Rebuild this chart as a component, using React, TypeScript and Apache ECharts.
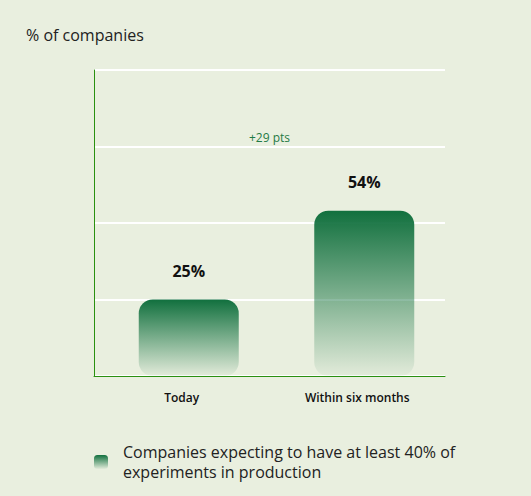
import React, { useEffect, useRef } from "react";
import * as echarts from "echarts";

const categories = ["Today", "Within six months"];
const values = [25, 54];
const seriesName = "Companies expecting to have at least 40% of experiments in production";
const legendText = "Companies expecting to have at least 40% of\nexperiments in production";
const yTicks = [0, 25, 50, 75, 100];
const deltaText = "+29 pts";
const deltaLevel = 78; // y value where the "+29 pts" note sits

const App = () => {
    const chartRef = useRef<HTMLDivElement>(null);

    useEffect(() => {
        const chart = echarts.init(chartRef.current, null, { renderer: "svg" });

        const barColor = new echarts.graphic.LinearGradient(0, 0, 0, 1, [
            { offset: 0, color: "#11703e" },
            { offset: 1, color: "rgba(17,112,62,0.03)" },
        ]);

        const option = {
            animation: false,
            backgroundColor: "#e9efdf",
            textStyle: { fontFamily: "Open Sans" },
            title: {
                text: "% of companies",
                left: 21,
                top: 22,
                textStyle: { fontSize: 16, fontWeight: "normal", color: "#222" },
            },
            grid: { left: 94, right: 86, top: 70, bottom: 120 },
            legend: {
                left: 89,
                top: 437,
                itemWidth: 14,
                itemHeight: 14,
                icon: "roundRect",
                formatter: () => legendText,
                textStyle: { fontSize: 16, color: "#222", lineHeight: 20, padding: [0, 0, 0, 10] },
                data: [seriesName],
            },
            xAxis: {
                type: "category",
                data: categories,
                axisLine: { lineStyle: { color: "#2a9010", width: 1 } },
                axisTick: { show: false },
                axisLabel: { color: "#111", fontSize: 12, fontWeight: 600, margin: 15 },
            },
            yAxis: {
                type: "value",
                min: yTicks[0],
                max: yTicks[yTicks.length - 1],
                interval: 25,
                axisLine: { show: true, lineStyle: { color: "#2a9010", width: 1 } },
                axisTick: { show: false },
                axisLabel: { show: false },
                splitLine: { lineStyle: { color: "#ffffff", width: 2 } },
            },
            series: [
                {
                    // invisible spacer so the visible bars sit a little right of the category centre
                    name: "spacer",
                    type: "bar",
                    data: values.map(() => 0),
                    barWidth: 14,
                    barGap: 0,
                    itemStyle: { color: "transparent" },
                    silent: true,
                },
                {
                    name: seriesName,
                    type: "bar",
                    data: values,
                    barWidth: 100,
                    barGap: 0,
                    itemStyle: { color: barColor, borderRadius: 14 },
                    label: {
                        show: true,
                        position: "top",
                        distance: 21,
                        formatter: "{c}%",
                        fontSize: 16,
                        fontWeight: "bold",
                        color: "#111",
                    },
                },
            ],
        };

        chart.setOption(option);

        // "+29 pts" note centred between the two categories
        const p0 = chart.convertToPixel({ gridIndex: 0 }, [0, deltaLevel]);
        const p1 = chart.convertToPixel({ gridIndex: 0 }, [1, deltaLevel]);
        chart.setOption({
            graphic: [
                {
                    type: "text",
                    x: (p0[0] + p1[0]) / 2,
                    y: p0[1],
                    style: {
                        text: deltaText,
                        fill: "#1f7a45",
                        font: "12px 'Open Sans'",
                        align: "center",
                        verticalAlign: "middle",
                    },
                },
            ],
        });

        return () => {
            chart.dispose();
        };
    }, []);

    return (
        <div
            ref={chartRef}
            style={{ position: "fixed", left: 0, top: 0, width: 531, height: 496 }}
        />
    );
};

export default App;
